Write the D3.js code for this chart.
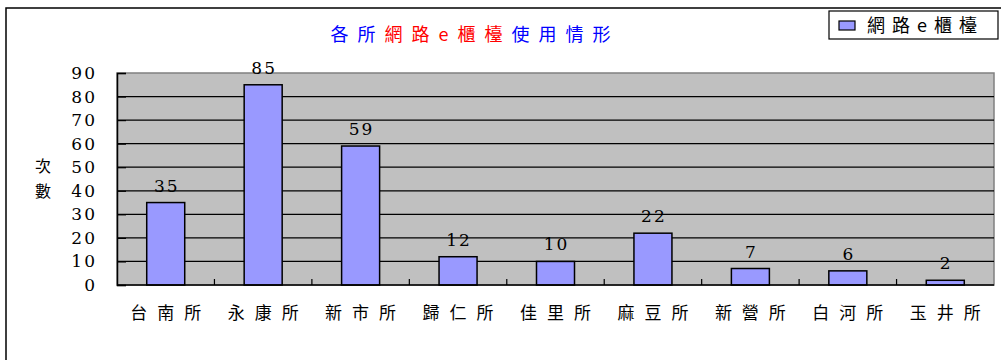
<!DOCTYPE html>
<html>
<head>
<meta charset="utf-8">
<script src="https://cdn.jsdelivr.net/npm/d3@7"></script>
<style>
  html, body { margin: 0; padding: 0; background: #fff; }
  svg { display: block; }
</style>
</head>
<body>
<svg id="chart" width="1001" height="360"></svg>
<script>
// Usage counts of the online service counter per branch office
const categories = ["台南所", "永康所", "新市所", "歸仁所", "佳里所", "麻豆所", "新營所", "白河所", "玉井所"];
const values = [35, 85, 59, 12, 10, 22, 7, 6, 2];
const yTicks = [0, 10, 20, 30, 40, 50, 60, 70, 80, 90];
const seriesName = "網路e櫃檯";
const titleParts = [
  { text: "各所", color: "#0000ff" },
  { text: "網路e櫃檯", color: "#ff0000" },
  { text: "使用情形", color: "#0000ff" }
];
const yTitle = ["次", "數"];

const cjk = "'Noto Sans CJK TC', 'Noto Sans CJK SC', sans-serif";
const num = "'DejaVu Serif', 'Liberation Serif', serif";

const svg = d3.select("#chart");

// outer chart frame (extends past the right and bottom edge)
svg.append("rect")
  .attr("x", 6).attr("y", 8)
  .attr("width", 1100).attr("height", 400)
  .attr("fill", "#fff").attr("stroke", "#000").attr("stroke-width", 1.5);

const plot = { left: 117, right: 994, top: 73, bottom: 285 };

const x = d3.scaleBand()
  .domain(categories)
  .range([plot.left, plot.right])
  .paddingInner(0.61).paddingOuter(0.305);

const xBand = d3.scaleBand().domain(categories).range([plot.left, plot.right]);

const y = d3.scaleLinear().domain([0, 90]).range([plot.bottom, plot.top]);

// plot background
svg.append("rect")
  .attr("x", plot.left).attr("y", plot.top)
  .attr("width", plot.right - plot.left).attr("height", plot.bottom - plot.top)
  .attr("fill", "#c0c0c0").attr("stroke", "#808080").attr("stroke-width", 1.5);

// horizontal gridlines
svg.append("g")
  .selectAll("line")
  .data(yTicks.filter(t => t > 0 && t < 90))
  .join("line")
  .attr("x1", plot.left).attr("x2", plot.right)
  .attr("y1", d => y(d)).attr("y2", d => y(d))
  .attr("stroke", "#000").attr("stroke-width", 1.2);

// bars
svg.append("g")
  .selectAll("rect")
  .data(values)
  .join("rect")
  .attr("x", (d, i) => x(categories[i]))
  .attr("y", d => y(d))
  .attr("width", x.bandwidth())
  .attr("height", d => y(0) - y(d))
  .attr("fill", "#9999ff")
  .attr("stroke", "#000").attr("stroke-width", 1.5);

// y axis with inside ticks
const yAxis = d3.axisLeft(y).tickValues(yTicks).tickSize(-9).tickPadding(22).tickFormat(d3.format("d"));
const gy = svg.append("g").attr("transform", `translate(${plot.left},0)`).call(yAxis);
gy.select(".domain").attr("stroke", "#000").attr("stroke-width", 1.5);
gy.selectAll(".tick line").attr("stroke", "#000").attr("stroke-width", 1.2);
gy.selectAll(".tick text")
  .style("font-family", num).style("font-size", "17px").attr("fill", "#000")
  .attr("letter-spacing", 2).attr("dx", 2);

// x axis with inside ticks at category boundaries
const gx = svg.append("g").attr("transform", `translate(0,${plot.bottom})`);
gx.append("line")
  .attr("x1", plot.left).attr("x2", plot.right)
  .attr("stroke", "#000").attr("stroke-width", 1.5);
gx.selectAll("line.tk")
  .data(categories.slice(1))
  .join("line").attr("class", "tk")
  .attr("x1", d => xBand(d)).attr("x2", d => xBand(d))
  .attr("y1", 0).attr("y2", -6)
  .attr("stroke", "#000").attr("stroke-width", 1.2);
gx.selectAll("text")
  .data(categories)
  .join("text")
  .attr("x", d => xBand(d) + xBand.bandwidth() / 2 + 5)
  .attr("y", 34)
  .attr("text-anchor", "middle")
  .style("font-family", cjk).style("font-size", "17px").attr("letter-spacing", 10)
  .attr("fill", "#000")
  .text(d => d);

// value labels
svg.append("g")
  .selectAll("text")
  .data(values)
  .join("text")
  .attr("x", (d, i) => x(categories[i]) + x.bandwidth() / 2 + 1)
  .attr("y", d => y(d) - 11)
  .attr("text-anchor", "middle")
  .style("font-family", num).style("font-size", "17px").attr("letter-spacing", 2)
  .attr("fill", "#000")
  .text(d => d);

// y axis title, stacked vertically
svg.append("g")
  .selectAll("text")
  .data(yTitle)
  .join("text")
  .attr("x", 43).attr("y", (d, i) => 172 + i * 25)
  .attr("text-anchor", "middle")
  .style("font-family", cjk).style("font-size", "16px").attr("fill", "#000")
  .text(d => d);

// chart title
const title = svg.append("text")
  .attr("x", 475).attr("y", 41)
  .attr("text-anchor", "middle")
  .style("font-family", cjk).style("font-size", "18px").attr("letter-spacing", 9);
title.selectAll("tspan")
  .data(titleParts)
  .join("tspan")
  .attr("fill", d => d.color)
  .text(d => d.text);

// legend
const lg = svg.append("g");
lg.append("rect")
  .attr("x", 829).attr("y", 11).attr("width", 169).attr("height", 28)
  .attr("fill", "#fff").attr("stroke", "#000").attr("stroke-width", 1.2);
lg.append("rect")
  .attr("x", 839).attr("y", 21).attr("width", 16).attr("height", 9)
  .attr("fill", "#9999ff").attr("stroke", "#000").attr("stroke-width", 1.2);
lg.append("text")
  .attr("x", 867).attr("y", 32)
  .style("font-family", cjk).style("font-size", "18px").attr("letter-spacing", 7)
  .attr("fill", "#000")
  .text(seriesName);
</script>
</body>
</html>
